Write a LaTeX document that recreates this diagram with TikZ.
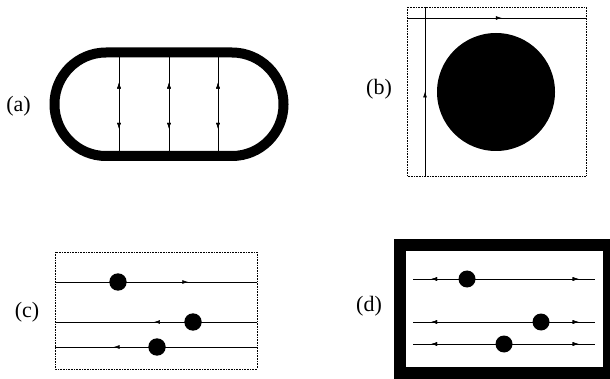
\documentclass[tikz,border=0pt]{standalone}
\usepackage{fontspec}
\setmainfont{Liberation Serif}
\usetikzlibrary{arrows.meta,decorations.markings}
\begin{document}
\begin{tikzpicture}[x=1pt,y=-1pt,
  thin line/.style={line width=0.7pt},
  dotbox/.style={line width=0.6pt,densely dotted},
  ball/.style={fill=black},
  lab/.style={font=\fontsize{22}{24}\selectfont, inner sep=0pt},
  tip/.style={postaction={decorate},decoration={markings,mark=at position #1 with {\arrow{Latex[length=6pt,width=4pt]}}}},
  rtip/.style={postaction={decorate},decoration={markings,mark=at position #1 with {\arrowreversed{Latex[length=6pt,width=4pt]}}}}
]
\useasboundingbox (0,0) rectangle (610,379);
\begin{scope}
\clip (0,0) rectangle (610,379);
% (a)
\node[lab] (la) at (18.5,106) {(a)};
\draw[line width=10pt, rounded corners=51.5pt] (54.5,52.5) rectangle (283.5,156);
\foreach \x/\n in {119/1,169/2,218/3} {
  \coordinate (at\n) at (\x,57);
  \coordinate (ab\n) at (\x,151.5);
  \draw[thin line, rtip=0.27, tip=0.76] (at\n) -- (ab\n);
}
% (b)
\node[lab] (lb) at (379,89) {(b)};
\draw[dotbox] (407,7) rectangle (586,176);
\coordinate (bl) at (407,18);
\coordinate (br) at (586,18);
\coordinate (bt) at (425,7);
\coordinate (bb) at (425,176);
\draw[thin line, tip=0.53] (bl) -- (br);
\draw[thin line, rtip=0.50] (bt) -- (bb);
\fill (496,92) circle (59);
% (c)
\node[lab] (lc) at (27,312) {(c)};
\draw[dotbox] (55,252) rectangle (257,369);
\coordinate (c1l) at (55,282); \coordinate (c1r) at (257,282);
\coordinate (c2l) at (55,322); \coordinate (c2r) at (257,322);
\coordinate (c3l) at (55,347); \coordinate (c3r) at (257,347);
\draw[thin line, tip=0.66] (c1l) -- (c1r);
\draw[thin line, rtip=0.49] (c2l) -- (c2r);
\draw[thin line, rtip=0.29] (c3l) -- (c3r);
\fill[ball] (118,282) circle (8.7);
\fill[ball] (193,322) circle (8.7);
\fill[ball] (157,347) circle (8.7);
% (d)
\node[lab] (ld) at (369,306) {(d)};
\draw[line width=12pt] (400,245) rectangle (609,373);
\foreach \y/\n in {279/1,322/2,344/3} {
  \coordinate (d\n l) at (413,\y);
  \coordinate (d\n r) at (595,\y);
  \draw[thin line, rtip=0.10, tip=0.91] (d\n l) -- (d\n r);
}
\fill[ball] (467,279) circle (8.5);
\fill[ball] (541,322) circle (8.5);
\fill[ball] (504,344) circle (8.5);
\end{scope}
\end{tikzpicture}
\end{document}
